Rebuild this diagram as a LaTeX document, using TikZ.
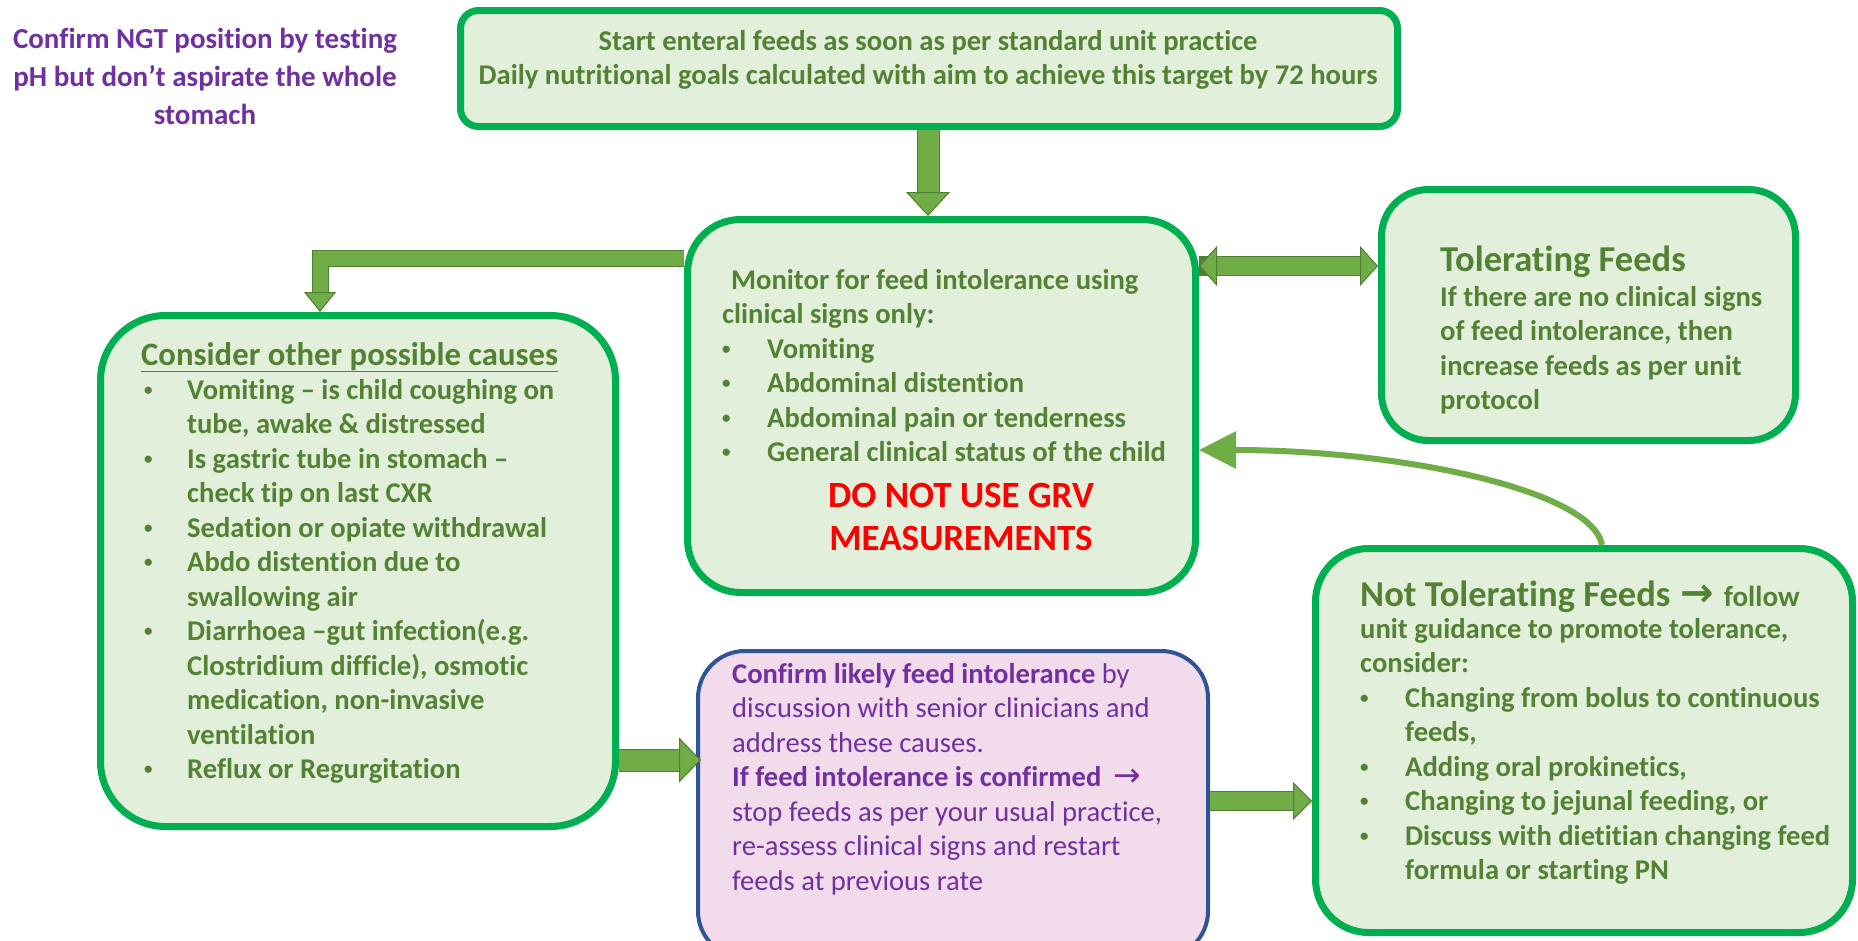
\documentclass[tikz,border=0pt]{standalone}
\usepackage{fontspec}
\setmainfont{Carlito}[Ligatures=NoCommon]
\newfontfamily\symfont{DejaVu Sans}
\usetikzlibrary{arrows.meta}
\definecolor{boxline}{HTML}{00B050}
\definecolor{boxfill}{HTML}{E2EFDA}
\definecolor{txtgreen}{HTML}{548235}
\definecolor{arrowfill}{HTML}{70AD47}
\definecolor{arrowedge}{HTML}{507E32}
\definecolor{ngtpurple}{HTML}{7030A0}
\definecolor{pinkfill}{HTML}{F2DCEC}
\definecolor{blueline}{HTML}{2F5597}
\definecolor{grvred}{HTML}{FF0000}
\newcommand{\bul}{\raisebox{4pt}{\fontsize{17}{20}\selectfont\textbullet}}
\tikzset{
  gbox/.style={draw=boxline, fill=boxfill, line width=7pt, rounded corners=#1, inner sep=0pt},
  gbox/.default=50pt,
  pbox/.style={draw=blueline, fill=pinkfill, line width=4pt, rounded corners=#1, inner sep=0pt},
  txt/.style={inner sep=0pt, anchor=base west, text=txtgreen, font=\bfseries\fontsize{28.6}{34.5}\selectfont},
  barrow/.style n args={3}{draw=arrowfill, line width=#1, line join=miter,
    -{Triangle[length=#2, width=#3, line width=1pt, color=arrowedge, fill=arrowfill]},
    preaction={draw=arrowedge, line width=#1+2pt, -{}, shorten >=#2-3pt}},
  curvearrow/.style={draw=arrowfill, line width=6pt, -{Triangle[length=37pt, width=36pt]}}
}
\begin{document}
\begin{tikzpicture}[x=1pt,y=-1pt]
\useasboundingbox (0,0) rectangle (1858,940);
% boxes
\node[gbox=18pt, minimum width=937pt, minimum height=116pt] (top) at (929,68.5) {};
\node[gbox=53pt, minimum width=508pt, minimum height=373pt] (mon) at (941.5,406) {};
\node[gbox=47pt, minimum width=414pt, minimum height=251pt] (tol) at (1588.5,315) {};
\node[gbox=65pt, minimum width=515pt, minimum height=511pt] (cons) at (358,571) {};
\node[pbox=47pt, minimum width=510pt, minimum height=307pt] (conf) at (953,804.5) {};
\node[gbox=53pt, minimum width=537pt, minimum height=384pt] (nt) at (1584,740.5) {};
% arrows
\draw[barrow={21pt}{24pt}{44pt}] ([xshift=-1pt]top.south) -- ([xshift=-1pt]top.south |- mon.north);
\draw[barrow={15pt}{20pt}{32pt}] (mon.west |- 0,258) -| ([xshift=-38pt]cons.north);
\draw[barrow={18pt}{18pt}{40pt}, {Triangle[length=18pt, width=40pt, line width=1pt, color=arrowedge, fill=arrowfill]}-{Triangle[length=18pt, width=40pt, line width=1pt, color=arrowedge, fill=arrowfill]},
  preaction={shorten <=15pt}] (mon.east |- 0,266) -- (tol.west |- 0,266);
\draw[barrow={21pt}{22pt}{45pt}] (cons.east |- 0,760) -- ([xshift=5pt]conf.west |- 0,760);
\draw[barrow={18pt}{19pt}{38pt}] (conf.east |- 0,801) -- (nt.west |- 0,801);
\draw[curvearrow] ([xshift=18pt]nt.north) .. controls (1592,490) and (1400,450) .. (mon.east |- 0,450);
% texts
\node[txt, text=ngtpurple, anchor=base, font=\bfseries\fontsize{29}{38}\selectfont] (ngt) at (205,48)
  {\begin{tabular}[t]{@{}c@{}}Confirm NGT position by testing\\ pH but don’t aspirate the whole\\ stomach\end{tabular}};
\node[txt, anchor=base] (toptxt) at (928,50)
  {\begin{tabular}[t]{@{}c@{}}Start enteral feeds as soon as per standard unit practice\\ Daily nutritional goals calculated with aim to achieve this target by 72 hours\end{tabular}};
\node[txt] (montxt) at (722,289)
  {\begin{tabular}[t]{@{}p{45pt}@{}l@{}}
  \multicolumn{2}{@{}l@{}}{\hspace{9pt}Monitor for feed intolerance using}\\
  \multicolumn{2}{@{}l@{}}{clinical signs only:}\\
  \bul & Vomiting\\
  \bul & Abdominal distention\\
  \bul & Abdominal pain or tenderness\\
  \bul & General clinical status of the child
  \end{tabular}};
\node[inner sep=0pt, anchor=base, text=grvred, font=\bfseries\fontsize{37}{43}\selectfont] (grv) at (961,507)
  {\begin{tabular}[t]{@{}c@{}}DO NOT USE GRV\\ MEASUREMENTS\end{tabular}};
\node[txt, font=\bfseries\fontsize{36.5}{40}\selectfont] (toltitle) at (1440,271) {Tolerating Feeds};
\node[txt] (toltxt) at (1440,306)
  {\begin{tabular}[t]{@{}l@{}}If there are no clinical signs\\ of feed intolerance, then\\ increase feeds as per unit\\ protocol\end{tabular}};
\node[txt, font=\bfseries\fontsize{32.7}{38}\selectfont] (constitle) at (141,365) {\underline{Consider other possible causes}};
\node[txt] (constxt) at (144,399)
  {\begin{tabular}[t]{@{}p{43pt}@{}l@{}}
  \bul & Vomiting – is child coughing on\\
   & tube, awake \& distressed\\
  \bul & Is gastric tube in stomach –\\
   & check tip on last CXR\\
  \bul & Sedation or opiate withdrawal\\
  \bul & Abdo distention due to\\
   & swallowing air\\
  \bul & Diarrhoea –gut infection(e.g.\\
   & Clostridium difficle), osmotic\\
   & medication, non-invasive\\
   & ventilation\\
  \bul & Reflux or Regurgitation
  \end{tabular}};
\node[txt, text=ngtpurple, font=\fontsize{28.6}{34.5}\selectfont] (conftxt) at (732,683)
  {\begin{tabular}[t]{@{}l@{}}
  \textbf{Confirm likely feed intolerance} by\\
  discussion with senior clinicians and\\
  address these causes.\\
  \textbf{If feed intolerance is confirmed}\hspace{12pt}{\symfont\fontsize{33}{34.5}\selectfont →}\\
  stop feeds as per your usual practice,\\
  re-assess clinical signs and restart\\
  feeds at previous rate
  \end{tabular}};
\node[txt, font=\bfseries\fontsize{36.5}{40}\selectfont] (nttitle) at (1360,606)
  {Not Tolerating Feeds\hspace{10pt}{\symfont\fontsize{40}{40}\selectfont →}\hspace{10pt}{\fontsize{29}{34.5}\selectfont follow}};
\node[txt] (nttxt) at (1360,638)
  {\begin{tabular}[t]{@{}p{45pt}@{}l@{}}
  \multicolumn{2}{@{}l@{}}{unit guidance to promote tolerance,}\\
  \multicolumn{2}{@{}l@{}}{consider:}\\
  \bul & Changing from bolus to continuous\\
   & feeds,\\
  \bul & Adding oral prokinetics,\\
  \bul & Changing to jejunal feeding, or\\
  \bul & Discuss with dietitian changing feed\\
   & formula or starting PN
  \end{tabular}};
\end{tikzpicture}
\end{document}
